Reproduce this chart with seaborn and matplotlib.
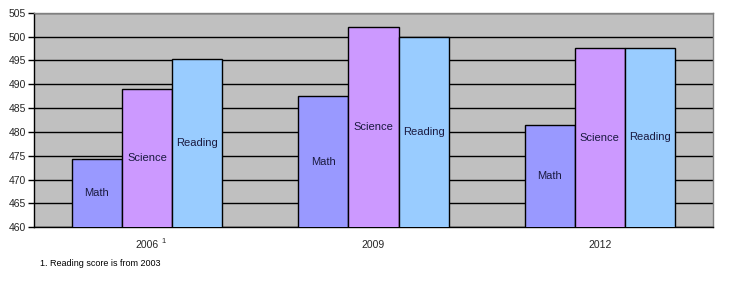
import matplotlib
matplotlib.use("Agg")
import matplotlib.pyplot as plt
import matplotlib.transforms as mtransforms
import seaborn as sns
import pandas as pd

years = ["2006", "2009", "2012"]
year_labels = ["2006", "2009", "2012"]
year_note = "1"
subjects = ["Math", "Science", "Reading"]
math_scores = [474.4, 487.5, 481.4]
science_scores = [488.9, 502.1, 497.5]
reading_scores = [495.2, 499.8, 497.7]
yticks = [460, 465, 470, 475, 480, 485, 490, 495, 500, 505]
footnote = "1. Reading score is from 2003"
colors = ["#9999FF", "#CC99FF", "#99CCFF"]

sns.set_style("white")
plt.rcParams["font.family"] = ["Liberation Sans", "DejaVu Sans"]

rows = []
for s, vals in zip(subjects, [math_scores, science_scores, reading_scores]):
    for y, v in zip(years, vals):
        rows.append({"Year": y, "Subject": s, "Score": v})
df = pd.DataFrame(rows)

fig = plt.figure(figsize=(7.35, 2.86), dpi=100)
ax = fig.add_axes([34/735, 1 - 227.3/286, (713-34)/735, (227.3-12.7)/286])
ax.set_facecolor("#C0C0C0")

sns.barplot(data=df, x="Year", y="Score", hue="Subject", order=years,
            hue_order=subjects, palette=colors, width=0.665, gap=0,
            edgecolor="black", linewidth=1, saturation=1, ax=ax, legend=False,
            zorder=3)

ymin, ymax = 460, 505
ax.set_ylim(ymin, ymax)
ax.set_xlim(-0.5, 2.5)
ax.set_yticks(yticks)
ax.set_yticklabels([str(t) for t in yticks], fontsize=7.5)
ax.yaxis.grid(True, color="black", linewidth=1, zorder=1)
ax.set_axisbelow(True)
ax.set_xticks(range(len(years)))
ax.set_xticklabels(year_labels, fontsize=7.5)
ax.tick_params(axis="x", length=0, pad=9)
ax.set_xticks([-0.5, 0.5, 1.5, 2.5], minor=True)
ax.tick_params(axis="x", which="minor", length=4, direction="out", color="black", width=1)
ax.tick_params(axis="y", length=4, direction="out", color="black", width=1, pad=2, left=True)
ax.set_xlabel("")
ax.set_ylabel("")

# superscript note marker on the first category label
trans = mtransforms.blended_transform_factory(ax.transData, ax.transAxes)
ax.annotate(year_note, xy=(0, 0), xycoords=trans, xytext=(10.5, -10),
            textcoords="offset points", fontsize=5.5, ha="left", va="center")

for side in ["top", "right"]:
    ax.spines[side].set_color("#808080")
    ax.spines[side].set_linewidth(1)
for side in ["left", "bottom"]:
    ax.spines[side].set_color("black")
    ax.spines[side].set_linewidth(1)

for cont, name in zip(ax.containers, subjects):
    for bar in cont:
        top = bar.get_y() + bar.get_height()
        ax.text(bar.get_x() + bar.get_width()/2, (ymin + top)/2, name,
                ha="center", va="center", fontsize=8, color="#1a1a40", zorder=5)

fig.text(40/735, 1 - 264/286, footnote, fontsize=6.5, color="black", va="center")

fig.savefig("out.png", dpi=100, facecolor="white")
